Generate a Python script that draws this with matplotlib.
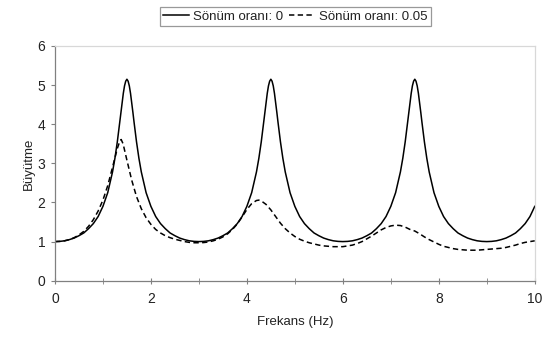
import matplotlib
matplotlib.use("Agg")
import matplotlib.pyplot as plt
from matplotlib.ticker import MultipleLocator

plt.rcParams['font.family'] = ['Liberation Sans', 'DejaVu Sans']

# Frequency (Hz) and amplification, damping ratio 0 (solid)
freq_0 = [0.0, 0.1, 0.2, 0.3, 0.4, 0.5, 0.6, 0.7, 0.8, 0.9, 1.0, 1.1, 1.2, 1.25, 1.3, 1.35, 1.375, 1.4, 1.425, 1.45, 1.475,
          1.5, 1.525, 1.55, 1.575, 1.6, 1.625, 1.65, 1.7, 1.75, 1.8, 1.9, 2.0, 2.1, 2.2, 2.3, 2.4, 2.5, 2.6, 2.7, 2.8, 2.9,
          3.0, 3.1, 3.2, 3.3, 3.4, 3.5, 3.6, 3.7, 3.8, 3.9, 4.0, 4.1, 4.2, 4.25, 4.3, 4.35, 4.375, 4.4, 4.425, 4.45, 4.475,
          4.5, 4.525, 4.55, 4.575, 4.6, 4.625, 4.65, 4.7, 4.75, 4.8, 4.9, 5.0, 5.1, 5.2, 5.3, 5.4, 5.5, 5.6, 5.7, 5.8, 5.9,
          6.0, 6.1, 6.2, 6.3, 6.4, 6.5, 6.6, 6.7, 6.8, 6.9, 7.0, 7.1, 7.2, 7.25, 7.3, 7.35, 7.375, 7.4, 7.425, 7.45, 7.475,
          7.5, 7.525, 7.55, 7.575, 7.6, 7.625, 7.65, 7.7, 7.75, 7.8, 7.9, 8.0, 8.1, 8.2, 8.3, 8.4, 8.5, 8.6, 8.7, 8.8, 8.9,
          9.0, 9.1, 9.2, 9.3, 9.4, 9.5, 9.6, 9.7, 9.8, 9.9, 10.0]
amp_0 = [1.00, 1.005, 1.02, 1.05, 1.09, 1.15, 1.22, 1.33, 1.46, 1.64, 1.90, 2.25, 2.78, 3.13, 3.55, 4.04, 4.30, 4.55, 4.79, 4.98, 5.10,
         5.15, 5.10, 4.98, 4.79, 4.55, 4.30, 4.04, 3.55, 3.13, 2.78, 2.25, 1.90, 1.64, 1.46, 1.33, 1.22, 1.15, 1.09, 1.05, 1.02, 1.005,
         1.00, 1.005, 1.02, 1.05, 1.09, 1.15, 1.22, 1.33, 1.46, 1.64, 1.90, 2.25, 2.78, 3.13, 3.55, 4.04, 4.30, 4.55, 4.79, 4.98, 5.10,
         5.15, 5.10, 4.98, 4.79, 4.55, 4.30, 4.04, 3.55, 3.13, 2.78, 2.25, 1.90, 1.64, 1.46, 1.33, 1.22, 1.15, 1.09, 1.05, 1.02, 1.005,
         1.00, 1.005, 1.02, 1.05, 1.09, 1.15, 1.22, 1.33, 1.46, 1.64, 1.90, 2.25, 2.78, 3.13, 3.55, 4.04, 4.30, 4.55, 4.79, 4.98, 5.10,
         5.15, 5.10, 4.98, 4.79, 4.55, 4.30, 4.04, 3.55, 3.13, 2.78, 2.25, 1.90, 1.64, 1.46, 1.33, 1.22, 1.15, 1.09, 1.05, 1.02, 1.005,
         1.00, 1.005, 1.02, 1.05, 1.09, 1.15, 1.22, 1.33, 1.46, 1.64, 1.90]

# Damping ratio 0.05 (dashed)
freq_05 = [0.0, 0.1, 0.2, 0.3, 0.4, 0.5, 0.6, 0.7, 0.8, 0.9, 1.0, 1.1, 1.2, 1.3, 1.35, 1.38, 1.42, 1.5,
           1.6, 1.7, 1.8, 1.9, 2.0, 2.1, 2.2, 2.3, 2.4, 2.5, 2.6, 2.7, 2.8, 2.9, 3.0, 3.1, 3.2, 3.3,
           3.4, 3.5, 3.6, 3.7, 3.8, 3.9, 4.0, 4.1, 4.2, 4.25, 4.3, 4.4, 4.5, 4.6, 4.7, 4.8, 4.9, 5.0,
           5.1, 5.2, 5.3, 5.4, 5.5, 5.6, 5.7, 5.8, 5.9, 6.0, 6.1, 6.2, 6.3, 6.4, 6.5, 6.6, 6.7, 6.8,
           6.9, 7.0, 7.1, 7.2, 7.3, 7.4, 7.5, 7.6, 7.7, 7.8, 7.9, 8.0, 8.1, 8.2, 8.3, 8.4, 8.5, 8.6,
           8.7, 8.8, 8.9, 9.0, 9.1, 9.2, 9.3, 9.4, 9.5, 9.6, 9.7, 9.8, 9.9, 10.0]
amp_05 = [1.00, 1.005, 1.02, 1.05, 1.10, 1.17, 1.26, 1.39, 1.56, 1.78, 2.06, 2.43, 2.90, 3.38, 3.56, 3.61, 3.50, 3.08,
          2.57, 2.15, 1.84, 1.61, 1.44, 1.31, 1.22, 1.15, 1.10, 1.06, 1.03, 1.00, 0.98, 0.97, 0.97, 0.975, 0.99, 1.02,
          1.06, 1.12, 1.20, 1.31, 1.45, 1.63, 1.82, 1.97, 2.05, 2.06, 2.04, 1.95, 1.81, 1.64, 1.47, 1.33, 1.22, 1.13,
          1.06, 1.01, 0.97, 0.94, 0.91, 0.89, 0.88, 0.87, 0.87, 0.87, 0.89, 0.91, 0.95, 1.00, 1.07, 1.14, 1.22, 1.30,
          1.36, 1.40, 1.42, 1.41, 1.37, 1.31, 1.27, 1.20, 1.12, 1.05, 0.99, 0.93, 0.88, 0.85, 0.82, 0.80, 0.79, 0.78,
          0.78, 0.78, 0.79, 0.80, 0.81, 0.82, 0.83, 0.85, 0.88, 0.91, 0.95, 0.98, 1.00, 1.02]

labels = ['Sönüm oranı: 0', 'Sönüm oranı: 0.05']

fig = plt.figure(figsize=(5.44, 3.38), dpi=100)
ax = fig.add_axes([0.101, 0.1695, 0.882, 0.6945])

ax.plot(freq_0, amp_0, color='black', lw=1.1, label=labels[0], solid_joinstyle='round')
ax.plot(freq_05, amp_05, color='black', lw=1.1, dashes=(3.5, 2.2), label=labels[1])

ax.set_xlim(0, 10)
ax.set_ylim(0, 6)
ax.xaxis.set_major_locator(MultipleLocator(2))
ax.xaxis.set_minor_locator(MultipleLocator(1))
ax.yaxis.set_major_locator(MultipleLocator(1))

for s in ['left', 'bottom']:
    ax.spines[s].set_color('#808080')
for s in ['top', 'right']:
    ax.spines[s].set_color('#d8d8d8')
for s in ax.spines.values():
    s.set_linewidth(0.9)

ax.tick_params(axis='x', which='both', direction='inout', length=4, color='#808080', labelsize=10, pad=6)
ax.tick_params(axis='y', which='both', direction='out', length=3, color='#808080', labelsize=10, pad=4)
ax.tick_params(which='both', labelcolor='#222222')

ax.set_xlabel('Frekans (Hz)', fontsize=9.5, color='#222222', labelpad=7)
ax.set_ylabel('Büyütme', fontsize=9.5, color='#222222', labelpad=2)

leg = fig.legend(loc='center', bbox_to_anchor=(0.543, 0.95), ncol=2, fontsize=9.5,
                 frameon=True, fancybox=False, edgecolor='#808080', handlelength=2.0,
                 handletextpad=0.3, columnspacing=0.4, borderpad=0.25, borderaxespad=0)
leg.get_frame().set_linewidth(0.9)
for t in leg.get_texts():
    t.set_color('#222222')

fig.savefig('out.png', dpi=100, facecolor='white')
